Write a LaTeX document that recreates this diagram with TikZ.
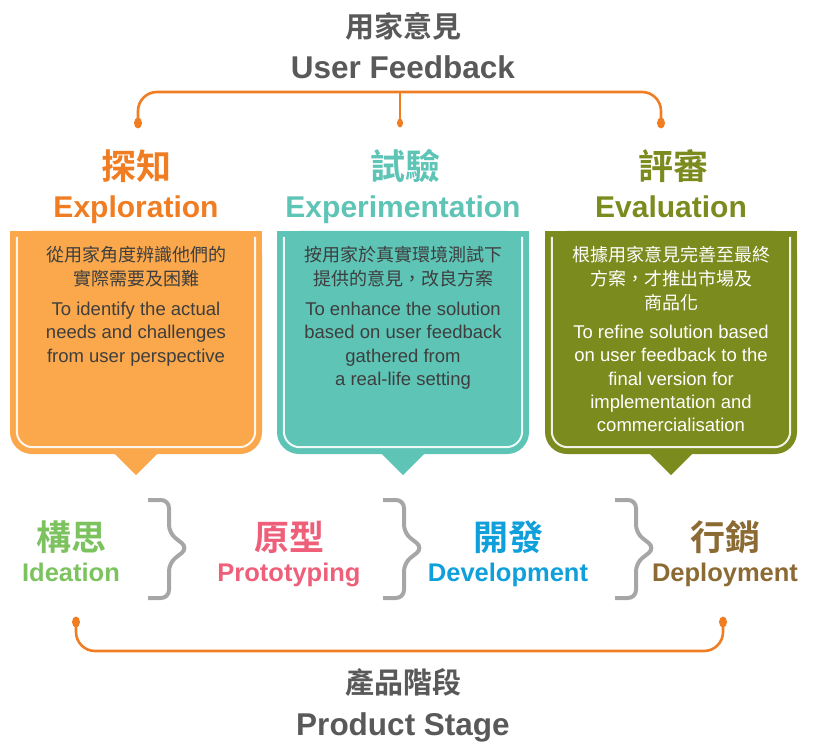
\documentclass[tikz,border=0pt]{standalone}
\usepackage{fontspec}
\setmainfont{Liberation Sans}
\newfontfamily\cjk{Noto Sans CJK TC}[BoldFont={Noto Sans CJK TC Bold}]
\usetikzlibrary{positioning}

\definecolor{fbgrey}{HTML}{595959}
\definecolor{fborange}{HTML}{F07D22}
\definecolor{exporange}{HTML}{FAA84B}
\definecolor{expteal}{HTML}{5DC4B6}
\definecolor{evalolive}{HTML}{7B8B1E}
\definecolor{txtgrey}{HTML}{3E3E3E}
\definecolor{chevgrey}{HTML}{A6A6A6}
\definecolor{ideagreen}{HTML}{7CC35F}
\definecolor{protopink}{HTML}{EE5F79}
\definecolor{devblue}{HTML}{0F9FDA}
\definecolor{deplbrown}{HTML}{8C6A33}

\tikzset{
  titlecjk/.style={font=\cjk\bfseries\fontsize{29}{32}\selectfont, text=fbgrey},
  titleen/.style={font=\bfseries\fontsize{31.5}{36}\selectfont, text=fbgrey, anchor=base},
  headcjk/.style={font=\cjk\bfseries\fontsize{35}{40}\selectfont},
  headen/.style={font=\bfseries\fontsize{30}{34}\selectfont, anchor=base},
  stagecjk/.style={font=\cjk\bfseries\fontsize{35}{40}\selectfont},
  stageen/.style={font=\bfseries\fontsize{25.5}{30}\selectfont, anchor=base},
  boxcjk/.style={font=\cjk\fontsize{18}{24}\selectfont, align=center, anchor=north},
  boxen/.style={font=\fontsize{18.5}{23.3}\selectfont, align=center, anchor=north},
  stagebox/.style={rectangle, rounded corners=22pt, minimum width=252pt, minimum height=223pt},
  feedline/.style={draw=fborange, line width=2.6pt, rounded corners=19pt},
  innerline/.style={draw=white, line width=2pt, rounded corners=16pt, opacity=0.9},
  chevron/.style={draw=chevgrey, line width=4pt, rounded corners=8pt}
}

\begin{document}
\begin{tikzpicture}[x=1pt,y=-1pt]
    \tikzstyle{every node}+=[inner sep=0pt]
    \useasboundingbox (0,0) rectangle (813,743);

    % user feedback bracket
    \node[titlecjk] (fbcjk) at (403,26) {用家意見};
    \node[titleen] (fben) at (403,79) {User Feedback};
    \coordinate (fbtop) at (400,92);
    \coordinate (fbl) at (138,123);
    \coordinate (fbm) at (400,123);
    \coordinate (fbr) at (661,123);
    \draw[feedline] (fbl) |- (fbtop) -| (fbr);
    \draw[feedline] (fbtop) -- (fbm);
    \fill[fborange] (fbl) ellipse (4 and 5.5);
    \fill[fborange] (fbm) ellipse (3 and 4.5);
    \fill[fborange] (fbr) ellipse (4 and 5.5);

    \node[headcjk, text=fborange] (h1c) at (136,166) {探知};
    \node[headen, text=fborange] (h1e) at (136,218) {Exploration};
    \node[headcjk, text=expteal] (h2c) at (405,166) {試驗};
    \node[headen, text=expteal] (h2e) at (403,218) {Experimentation};
    \node[headcjk, text=evalolive] (h3c) at (673,166) {評審};
    \node[headen, text=evalolive] (h3e) at (671,218) {Evaluation};

    % boxes
    \foreach \n/\x/\col in {b1/136/exporange, b2/403/expteal, b3/671/evalolive} {
        \node[stagebox, fill=\col] (\n) at (\x,342.5) {};
        \fill[\col] (\n.north west) rectangle (\n.east);
        \fill[\col] ([xshift=-22pt,yshift=1pt]\n.south) -- ([xshift=22pt,yshift=1pt]\n.south) -- ([yshift=-21pt]\n.south) -- cycle;
        \draw[innerline] ([xshift=7pt,yshift=-6pt]\n.north west) |- ([yshift=7pt]\n.south) -| ([xshift=-7pt,yshift=-6pt]\n.north east);
    }
    \node[boxcjk, text=txtgrey] (b1c) at ([yshift=-15pt]b1.north) {從用家角度辨識他們的\\實際需要及困難};
    \node[boxen, text=txtgrey] (b1e) at ([yshift=-71pt]b1.north) {To identify the actual\\needs and challenges\\from user perspective};
    \node[boxcjk, text=txtgrey] (b2c) at ([yshift=-15pt]b2.north) {按用家於真實環境測試下\\提供的意見，改良方案};
    \node[boxen, text=txtgrey] (b2e) at ([yshift=-71pt]b2.north) {To enhance the solution\\based on user feedback\\gathered from\\a real-life setting};
    \node[boxcjk, text=white] (b3c) at ([yshift=-15pt]b3.north) {根據用家意見完善至最終\\方案，才推出市場及\\商品化};
    \node[boxen, text=white] (b3e) at ([yshift=-94pt]b3.north) {To refine solution based\\on user feedback to the\\final version for\\implementation and\\commercialisation};

    % product stages
    \node[stagecjk, text=ideagreen] (s1c) at (71,537) {構思};
    \node[stageen, text=ideagreen] (s1e) at (71,581) {Ideation};
    \node[stagecjk, text=protopink] (s2c) at (289,537) {原型};
    \node[stageen, text=protopink] (s2e) at (289,581) {Prototyping};
    \node[stagecjk, text=devblue] (s3c) at (508,537) {開發};
    \node[stageen, text=devblue] (s3e) at (508,581) {Development};
    \node[stagecjk, text=deplbrown] (s4c) at (725,537) {行銷};
    \node[stageen, text=deplbrown] (s4e) at (725,581) {Deployment};
    \foreach \x in {148,383,615}
        \draw[chevron] (\x,500) -- ++(21,0) -- ++(0,33) -- ++(19,15) -- ++(-19,15) -- ++(0,35) -- ++(-21,0);

    % product stage bracket
    \coordinate (psl) at (76,622);
    \coordinate (psr) at (723,622);
    \coordinate (psbot) at (400,651);
    \draw[feedline] (psl) |- (psbot) -| (psr);
    \fill[fborange] (psl) ellipse (4 and 5.5);
    \fill[fborange] (psr) ellipse (4 and 5.5);
    \node[titlecjk] (pscjk) at (403,682) {產品階段};
    \node[titleen] (psen) at (403,735) {Product Stage};
\end{tikzpicture}
\end{document}
